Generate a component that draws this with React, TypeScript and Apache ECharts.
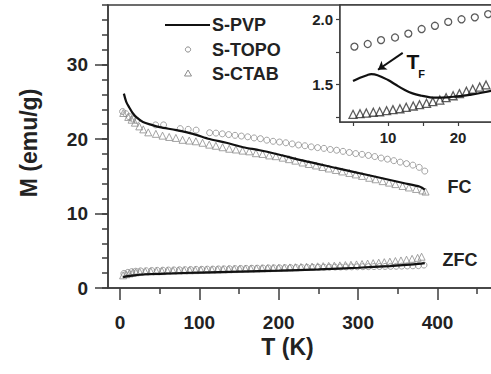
import React, { useEffect, useRef } from 'react';
import * as echarts from 'echarts';

// ---- main panel data (T in K, M in emu/g) ----
const fcPvpT = [5, 8, 12, 16, 21, 29, 40, 50, 71, 92, 113, 134, 155, 176, 197, 231, 273, 315, 357, 378, 384];
const fcPvpM = [26.1, 25.0, 24.2, 23.5, 22.9, 22.3, 21.9, 21.6, 21.2, 20.7, 20.0, 19.5, 18.9, 18.5, 18.0, 17.1, 16.1, 15.1, 14.1, 13.6, 13.2];

const fcTopoT = [3.4, 7.6, 11.7, 16, 21, 45, 55, 76, 86, 96, 113, 121, 129, 137, 145, 153, 161, 169, 177, 185, 193, 201, 209, 217, 225, 233, 241, 249, 257, 265, 273, 281, 289, 297, 305, 313, 321, 329, 337, 345, 353, 361, 369, 377, 384];
const fcTopoM = [23.7, 23.4, 23.0, 22.7, 22.5, 21.9, 21.9, 21.4, 21.3, 21.2, 20.85, 20.8, 20.7, 20.6, 20.5, 20.4, 20.3, 20.15, 20.05, 19.85, 19.7, 19.6, 19.5, 19.35, 19.2, 19.1, 18.95, 18.85, 18.75, 18.6, 18.5, 18.35, 18.2, 18.05, 17.95, 17.8, 17.65, 17.45, 17.3, 17.1, 16.9, 16.7, 16.5, 16.2, 15.7];

const fcCtabT = [4.2, 10.5, 14.7, 18.9, 24.4, 29.4, 35.7, 45.3, 53.7, 62.1, 70.5, 78.9, 87.3, 95.7, 104.1, 112.5, 120.9, 129.3, 137.7, 146.1, 154.5, 162.9, 171.3, 179.7, 188.1, 196.5, 205, 213, 221, 230, 238, 247, 255, 263, 272, 280, 289, 297, 305, 314, 322, 331, 339, 347, 356, 364, 373, 381, 385];
const fcCtabM = [23.5, 22.97, 22.6, 22.2, 21.7, 21.3, 20.9, 20.7, 20.46, 20.28, 20.15, 19.9, 19.8, 19.7, 19.5, 19.25, 19.1, 18.9, 18.7, 18.6, 18.45, 18.35, 18.1, 18.0, 17.8, 17.7, 17.5, 17.3, 17.1, 16.85, 16.65, 16.45, 16.25, 16.05, 15.85, 15.65, 15.45, 15.25, 15.05, 14.8, 14.6, 14.35, 14.15, 13.95, 13.7, 13.5, 13.3, 13.1, 12.95];

const zfcPvpT = [4, 8, 15, 25, 40, 60, 100, 150, 200, 250, 300, 340, 370, 384];
const zfcPvpM = [1.45, 1.55, 1.65, 1.78, 1.88, 1.95, 2.07, 2.2, 2.33, 2.5, 2.72, 2.95, 3.18, 3.35];

const zfcTopoT = [5, 10, 15, 20, 26, 33, 40, 47, 54, 61, 68, 75, 82, 89, 96, 103, 110, 117, 124, 131, 138, 145, 152, 159, 166, 173, 180, 187, 194, 201, 208, 215, 222, 229, 236, 243, 250, 257, 264, 271, 278, 285, 292, 299, 306, 313, 320, 327, 334, 341, 348, 355, 362, 369, 376, 383];
const zfcTopoM = [1.95, 2.1, 2.2, 2.25, 2.3, 2.32, 2.35, 2.37, 2.39, 2.41, 2.43, 2.45, 2.46, 2.48, 2.5, 2.51, 2.53, 2.54, 2.56, 2.57, 2.59, 2.6, 2.62, 2.63, 2.65, 2.66, 2.68, 2.69, 2.7, 2.71, 2.72, 2.73, 2.74, 2.75, 2.76, 2.77, 2.78, 2.79, 2.8, 2.81, 2.82, 2.83, 2.84, 2.85, 2.86, 2.87, 2.88, 2.89, 2.9, 2.91, 2.92, 2.94, 2.96, 2.98, 3.0, 3.08];

const zfcCtabT = [4, 8, 12, 16, 20, 25, 32, 39, 46, 53, 60, 67, 74, 81, 88, 95, 102, 109, 116, 123, 130, 137, 144, 151, 158, 165, 172, 179, 186, 193, 200, 207, 214, 221, 228, 235, 242, 249, 256, 263, 270, 277, 284, 291, 298, 305, 312, 319, 326, 333, 340, 347, 354, 361, 368, 375, 380];
const zfcCtabM = [1.7, 1.85, 1.95, 2.05, 2.1, 2.15, 2.2, 2.22, 2.25, 2.27, 2.3, 2.32, 2.34, 2.36, 2.38, 2.4, 2.42, 2.44, 2.46, 2.48, 2.5, 2.52, 2.54, 2.56, 2.58, 2.6, 2.62, 2.64, 2.66, 2.68, 2.7, 2.73, 2.76, 2.79, 2.82, 2.85, 2.88, 2.91, 2.94, 2.97, 3.0, 3.04, 3.08, 3.12, 3.17, 3.22, 3.28, 3.34, 3.4, 3.47, 3.54, 3.62, 3.7, 3.8, 3.92, 4.05, 4.2];

// ---- inset data (ZFC, low T) ----
const inPvpT = [5.0, 6.0, 7.0, 7.6, 8.5, 10.0, 11.0, 12.4, 13.5, 14.8, 16.0, 17.1, 18.5, 19.5, 21.9, 24.8, 26.0];
const inPvpM = [1.525, 1.55, 1.57, 1.578, 1.57, 1.533, 1.5, 1.456, 1.43, 1.412, 1.4, 1.397, 1.4, 1.405, 1.42, 1.45, 1.46];

const inTopoT = [5.2, 7.1, 9.0, 11.0, 12.9, 14.8, 16.7, 18.6, 20.5, 22.4, 24.3];
const inTopoM = [1.79, 1.81, 1.84, 1.86, 1.89, 1.925, 1.95, 1.98, 2.0, 2.015, 2.04];

const inCtabT = [5.0, 6.0, 6.9, 7.9, 8.8, 9.8, 10.7, 11.7, 12.6, 13.6, 14.5, 15.5, 16.4, 17.4, 18.3, 19.3, 20.2, 21.2, 22.1, 23.1, 24.0];
const inCtabM = [1.269, 1.274, 1.279, 1.285, 1.289, 1.297, 1.305, 1.312, 1.323, 1.333, 1.343, 1.354, 1.366, 1.379, 1.397, 1.412, 1.428, 1.446, 1.462, 1.479, 1.495];

// ---- ticks ----
const xMajorTicks = [0, 100, 200, 300, 400];
const xMinorTicks = [50, 150, 250, 350, 450];
const yMajorTicks = [0, 10, 20, 30];
const inXTicks = [5, 10, 15, 20, 25];
const inXLabels = [10, 20];
const inYTicks = [1.25, 1.5, 1.75, 2.0];
const inYLabels = [1.5, 2.0];

const legendNames = ['S-PVP', 'S-TOPO', 'S-CTAB'];

const pairs = (t: number[], m: number[]) => t.map((v, i) => [v, m[i]]);

const FONT = 'Liberation Sans, Arial, sans-serif';
const AX = '#3c3c3c';
const MARK = '#8c8c8c';
const INMARK = '#333';

export default function App() {
  const ref = useRef<HTMLDivElement>(null);
  useEffect(() => {
    if (!ref.current) return;
    const chart = echarts.init(ref.current, undefined, { renderer: 'svg' });
    const lbl = { fontFamily: FONT, fontWeight: 'bold' as const, color: '#222' };
    const option: any = {
      animation: false,
      backgroundColor: '#fff',
      grid: [
        { left: 108, top: 5, width: 393, height: 283, show: true, borderColor: AX, borderWidth: 1.5, backgroundColor: 'transparent' },
        { left: 340, top: 5, width: 161, height: 117, show: true, borderColor: AX, borderWidth: 1.5, backgroundColor: '#fff', z: 5 },
      ],
      xAxis: [
        {
          type: 'value', gridIndex: 0, min: -15, max: 480,
          axisLine: { show: true, onZero: false, lineStyle: { color: AX, width: 1.5 } },
          axisTick: { show: true, inside: false, length: 12, customValues: xMajorTicks, lineStyle: { color: AX, width: 1.5 } },
          axisLabel: { ...lbl, fontSize: 19, margin: 25, customValues: xMajorTicks },
          splitLine: { show: false },
        },
        {
          type: 'value', gridIndex: 0, min: -15, max: 480, position: 'bottom',
          axisLine: { show: false, onZero: false },
          axisTick: { show: true, length: 6, customValues: xMinorTicks, lineStyle: { color: AX, width: 1.5 } },
          axisLabel: { show: false },
          splitLine: { show: false },
        },
        {
          type: 'value', gridIndex: 1, min: 3.14, max: 26.14,
          axisLine: { show: true, onZero: false, lineStyle: { color: AX, width: 1.5 } },
          axisTick: { show: true, length: 4, customValues: inXTicks, lineStyle: { color: AX, width: 1.2 } },
          axisLabel: { ...lbl, fontSize: 15, margin: 8, customValues: inXLabels },
          splitLine: { show: false },
        },
      ],
      yAxis: [
        {
          type: 'value', gridIndex: 0, min: 0, max: 38,
          axisLine: { show: true, onZero: false, lineStyle: { color: AX, width: 1.5 } },
          axisTick: { show: true, length: 13, customValues: yMajorTicks, lineStyle: { color: AX, width: 1.5 } },
          axisLabel: { ...lbl, fontSize: 19, margin: 20, customValues: yMajorTicks },
          splitLine: { show: false },
        },
        {
          type: 'value', gridIndex: 0, min: 0, max: 38, interval: 2, position: 'left',
          axisLine: { show: false, onZero: false },
          axisTick: { show: true, length: 6, lineStyle: { color: AX, width: 1.5 } },
          axisLabel: { show: false },
          splitLine: { show: false },
        },
        {
          type: 'value', gridIndex: 1, min: 1.21, max: 2.11,
          axisLine: { show: true, onZero: false, lineStyle: { color: AX, width: 1.5 } },
          axisTick: { show: true, length: 4, customValues: inYTicks, lineStyle: { color: AX, width: 1.2 } },
          axisLabel: { ...lbl, fontSize: 15, margin: 7, customValues: inYLabels, formatter: (v: number) => v.toFixed(1) },
          splitLine: { show: false },
        },
      ],
      series: [
        { name: legendNames[1], type: 'scatter', xAxisIndex: 0, yAxisIndex: 0, data: pairs(fcTopoT, fcTopoM), symbol: 'circle', symbolSize: 6, itemStyle: { color: 'rgba(0,0,0,0)', borderColor: MARK, borderWidth: 1 }, z: 2 },
        { name: legendNames[2], type: 'scatter', xAxisIndex: 0, yAxisIndex: 0, data: pairs(fcCtabT, fcCtabM), symbol: 'triangle', symbolSize: 7, itemStyle: { color: 'rgba(0,0,0,0)', borderColor: MARK, borderWidth: 1 }, z: 2 },
        { name: legendNames[1], type: 'scatter', xAxisIndex: 0, yAxisIndex: 0, data: pairs(zfcTopoT, zfcTopoM), symbol: 'circle', symbolSize: 6, itemStyle: { color: 'rgba(0,0,0,0)', borderColor: MARK, borderWidth: 1 }, z: 2 },
        { name: legendNames[2], type: 'scatter', xAxisIndex: 0, yAxisIndex: 0, data: pairs(zfcCtabT, zfcCtabM), symbol: 'triangle', symbolSize: 7, itemStyle: { color: 'rgba(0,0,0,0)', borderColor: MARK, borderWidth: 1 }, z: 2 },
        { name: legendNames[0], type: 'line', xAxisIndex: 0, yAxisIndex: 0, data: pairs(fcPvpT, fcPvpM), showSymbol: false, smooth: 0.3, lineStyle: { color: '#111', width: 2.2 }, z: 3 },
        { name: legendNames[0], type: 'line', xAxisIndex: 0, yAxisIndex: 0, data: pairs(zfcPvpT, zfcPvpM), showSymbol: false, smooth: 0.3, lineStyle: { color: '#111', width: 2.2 }, z: 3 },
        // inset
        { name: legendNames[1], type: 'scatter', xAxisIndex: 2, yAxisIndex: 2, data: pairs(inTopoT, inTopoM), symbol: 'circle', symbolSize: 7, itemStyle: { color: 'rgba(0,0,0,0)', borderColor: INMARK, borderWidth: 1.3 }, z: 6 },
        { name: legendNames[2], type: 'scatter', xAxisIndex: 2, yAxisIndex: 2, data: pairs(inCtabT, inCtabM), symbol: 'triangle', symbolSize: 8, itemStyle: { color: 'rgba(0,0,0,0)', borderColor: INMARK, borderWidth: 1.3 }, z: 6 },
        {
          name: legendNames[0], type: 'line', xAxisIndex: 2, yAxisIndex: 2, data: pairs(inPvpT, inPvpM), showSymbol: false, smooth: 0.4, lineStyle: { color: '#111', width: 2.2 }, z: 7,
          markLine: {
            silent: true, symbol: ['none', 'arrow'], symbolSize: 8, animation: false,
            label: { show: false },
            lineStyle: { color: '#111', width: 2, type: 'solid' },
            data: [[{ coord: [12.1, 1.742] }, { coord: [8.57, 1.612] }]],
          },
        },
      ],
      graphic: [
        // legend
        { type: 'line', shape: { x1: 165, y1: 25, x2: 210, y2: 25 }, style: { stroke: '#111', lineWidth: 2.2 }, z: 10 },
        { type: 'text', x: 212, y: 25, style: { text: legendNames[0], font: `bold 18px ${FONT}`, fill: '#222', textVerticalAlign: 'middle' }, z: 10 },
        { type: 'circle', shape: { cx: 188, cy: 49.5, r: 2.6 }, style: { fill: 'none', stroke: MARK, lineWidth: 1 }, z: 10 },
        { type: 'text', x: 212, y: 49.5, style: { text: legendNames[1], font: `bold 18px ${FONT}`, fill: '#222', textVerticalAlign: 'middle' }, z: 10 },
        { type: 'polygon', shape: { points: [[188, 70], [191.5, 76], [184.5, 76]] }, style: { fill: 'none', stroke: MARK, lineWidth: 1 }, z: 10 },
        { type: 'text', x: 212, y: 73.5, style: { text: legendNames[2], font: `bold 18px ${FONT}`, fill: '#222', textVerticalAlign: 'middle' }, z: 10 },
        // curve labels
        { type: 'text', x: 459.5, y: 187, style: { text: 'FC', font: `bold 18px ${FONT}`, fill: '#222', textAlign: 'center', textVerticalAlign: 'middle' }, z: 10 },
        { type: 'text', x: 460, y: 260, style: { text: 'ZFC', font: `bold 18px ${FONT}`, fill: '#222', textAlign: 'center', textVerticalAlign: 'middle' }, z: 10 },
        // axis names
        { type: 'text', x: 287.5, y: 347, style: { text: 'T (K)', font: `bold 23px ${FONT}`, fill: '#222', textAlign: 'center', textVerticalAlign: 'middle' }, z: 10 },
        { type: 'text', x: 29, y: 143, rotation: Math.PI / 2, style: { text: 'M (emu/g)', font: `bold 23px ${FONT}`, fill: '#222', textAlign: 'center', textVerticalAlign: 'middle' }, z: 10 },
        // T_F annotation
        { type: 'text', x: 413, y: 61.5, style: { text: 'T', font: `bold 21px ${FONT}`, fill: '#111', textAlign: 'center', textVerticalAlign: 'middle' }, z: 10 },
        { type: 'text', x: 421.5, y: 73.5, style: { text: 'F', font: `bold 11px ${FONT}`, fill: '#111', textAlign: 'center', textVerticalAlign: 'middle' }, z: 10 },
      ],
    };
    chart.setOption(option);
    return () => chart.dispose();
  }, []);
  return (
    <div style={{ position: 'fixed', left: 0, top: 0, width: 491, height: 374, overflow: 'hidden', background: '#fff' }}>
      <div ref={ref} style={{ width: 520, height: 374 }} />
    </div>
  );
}
